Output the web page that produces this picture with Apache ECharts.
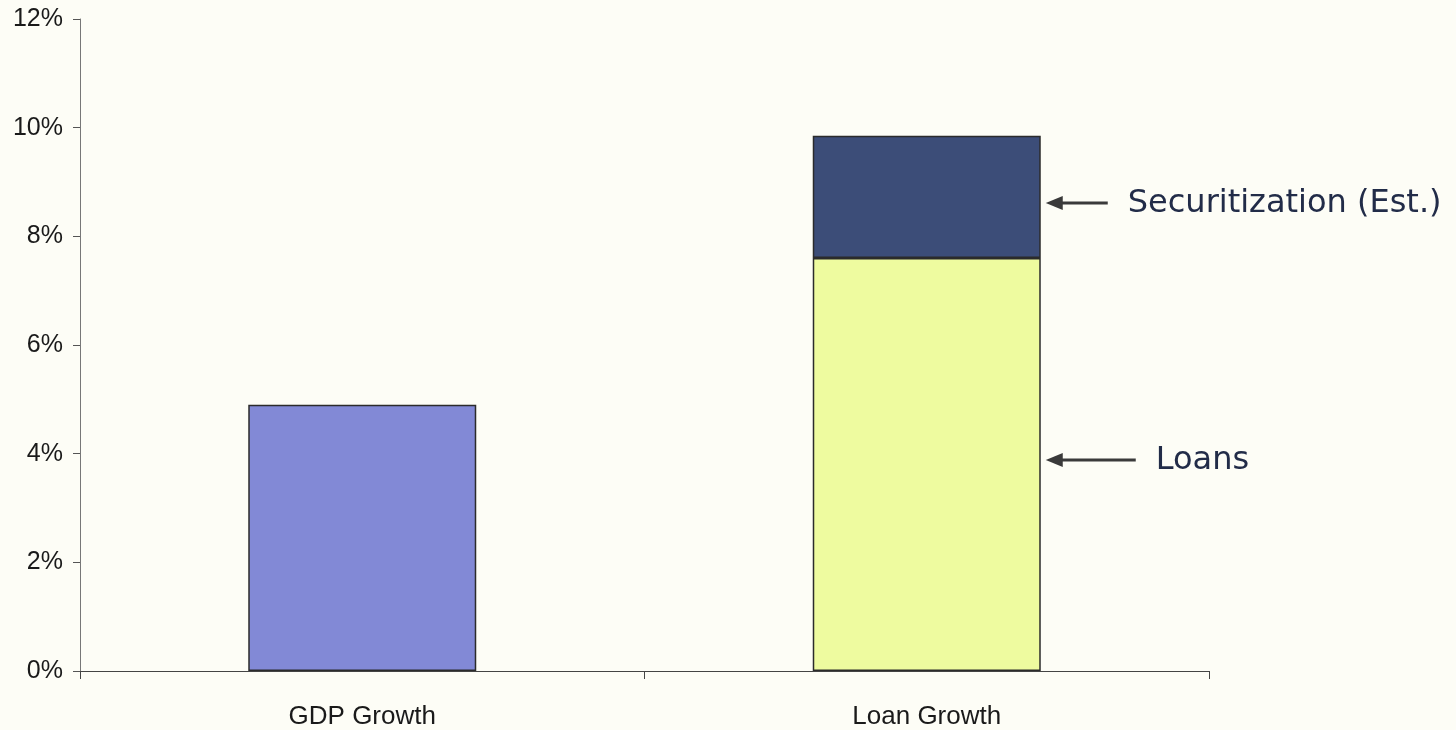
<!DOCTYPE html>
<html>
<head>
<meta charset="utf-8">
<script src="https://cdn.jsdelivr.net/npm/echarts@6/dist/echarts.min.js"></script>
<style>
  html, body { margin: 0; padding: 0; background: #fdfdf6; }
  #chart { width: 1456px; height: 730px; }
</style>
</head>
<body>
<div id="chart"></div>
<script>
// values, in percent
const categories = ['GDP Growth', 'Loan Growth'];
const gdpValues = [4.9, null];
const loanValues = [null, 7.6];
const securitizationValues = [null, 2.25];
const yTicks = [0, 2, 4, 6, 8, 10, 12];
const notes = ['Securitization (Est.)', 'Loans'];

const chart = echarts.init(document.getElementById('chart'));

const barBorder = { borderColor: '#2b2b2b', borderWidth: 1.5 };

chart.setOption({
  backgroundColor: '#fdfdf6',
  animation: false,
  grid: { left: 80, right: 247, top: 19, bottom: 59 },
  xAxis: {
    type: 'category',
    data: categories,
    axisLine: { lineStyle: { color: '#444', width: 1.2 } },
    axisTick: { show: true, length: 8, lineStyle: { color: '#444' } },
    axisLabel: { color: '#1a1a1a', fontFamily: 'Liberation Sans', fontSize: 26, margin: 33 }
  },
  yAxis: {
    type: 'value',
    min: yTicks[0],
    max: yTicks[yTicks.length - 1],
    interval: 2,
    splitLine: { show: false },
    axisLine: { show: true, lineStyle: { color: '#777', width: 1 } },
    axisTick: { show: true, length: 7, lineStyle: { color: '#555' } },
    axisLabel: {
      color: '#1a1a1a', fontFamily: 'Liberation Sans', fontSize: 25, margin: 17,
      formatter: v => v + '%'
    }
  },
  series: [
    {
      name: 'GDP', type: 'bar', stack: 'g', barWidth: 228, data: gdpValues,
      itemStyle: { color: '#8289d6', ...barBorder }
    },
    {
      name: 'Loans', type: 'bar', stack: 'g', barWidth: 228, data: loanValues,
      itemStyle: { color: '#eefb9f', ...barBorder }
    },
    {
      name: 'Securitization (Est.)', type: 'bar', stack: 'g', barWidth: 228, data: securitizationValues,
      itemStyle: { color: '#3c4d78', ...barBorder }
    }
  ]
});

// arrows pointing at each segment of the loan bar
function arrow(yVal, len, text) {
  const p = chart.convertToPixel({ gridIndex: 0 }, [categories[1], yVal]);
  const x0 = p[0] + 114 + 5;
  const y = Math.round(p[1]);
  return [
    { type: 'line', shape: { x1: x0 + 10, y1: y, x2: x0 + len, y2: y },
      style: { stroke: '#3a3a3a', lineWidth: 3 } },
    { type: 'polygon', shape: { points: [[x0, y], [x0 + 17, y - 7], [x0 + 17, y + 7]] },
      style: { fill: '#3a3a3a' } },
    { type: 'text', x: x0 + len + 20, y: y + 1,
      style: { text: text, fill: '#222c48', font: '32px "DejaVu Sans"', verticalAlign: 'middle' } }
  ];
}

const loanMid = loanValues[1] * 0.51;
const secMid = loanValues[1] + securitizationValues[1] * 0.45;
chart.setOption({
  graphic: [...arrow(secMid, 62, notes[0]), ...arrow(loanMid, 90, notes[1])]
});
</script>
</body>
</html>
